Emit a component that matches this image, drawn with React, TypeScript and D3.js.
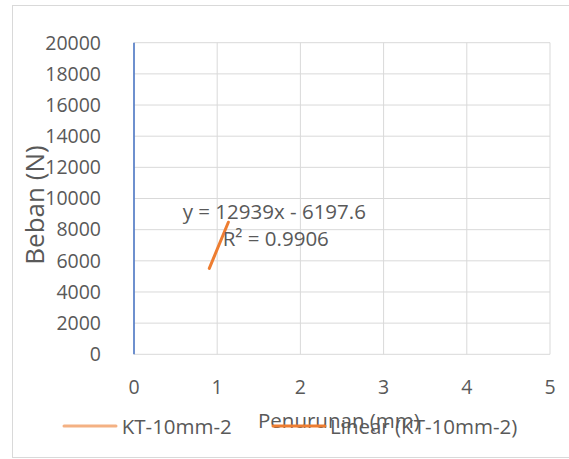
import React from "react";
import * as d3 from "d3";

const xTicks = [0, 1, 2, 3, 4, 5];
const yTicks = [0, 2000, 4000, 6000, 8000, 10000, 12000, 14000, 16000, 18000, 20000];
const seriesName = "KT-10mm-2";
const trendName = "Linear (KT-10mm-2)";
const trendSlope = 12939;
const trendIntercept = -6197.6;
const trendR2 = 0.9906;
const trendXRange = [0.905, 1.134];

const W = 569;
const H = 459;
const FONT = "'Open Sans', 'Noto Sans', sans-serif";
const TXT = "#595959";

export default function App() {
  const x = d3.scaleLinear().domain([0, 5]).range([134, 550]);
  const y = d3.scaleLinear().domain([0, 20000]).range([354.3, 42.7]);
  const trendPts: [number, number][] = trendXRange.map((v) => [v, trendSlope * v + trendIntercept]);
  const line = d3
    .line<[number, number]>()
    .x((d) => x(d[0]))
    .y((d) => y(d[1]));
  return (
    <svg
      width={W}
      height={H}
      style={{ position: "absolute", left: 0, top: 0 }}
      fontFamily={FONT}
    >
      <rect x={0} y={0} width={W} height={H} fill="#fff" />
      <rect x={12.5} y={5.5} width={W} height={452} fill="#fff" stroke="#d9d9d9" strokeWidth={1} />
      {yTicks.map((t) => (
        <line key={"gy" + t} x1={x(0)} x2={x(5)} y1={y(t)} y2={y(t)} stroke="#d9d9d9" strokeWidth={1} />
      ))}
      {xTicks.map((t) => (
        <line key={"gx" + t} x1={x(t)} x2={x(t)} y1={y(0)} y2={y(20000)} stroke="#d9d9d9" strokeWidth={1} />
      ))}
      <line x1={x(0)} x2={x(0)} y1={y(0)} y2={y(20000)} stroke="#4472c4" strokeWidth={1.5} />
      {yTicks.map((t) => (
        <text key={"ty" + t} x={101} y={y(t)} dy="0.35em" textAnchor="end" fontSize={19.5} fill={TXT}>
          {t}
        </text>
      ))}
      {xTicks.map((t) => (
        <text key={"tx" + t} x={x(t)} y={387} dy="0.35em" textAnchor="middle" fontSize={19.5} fill={TXT}>
          {t}
        </text>
      ))}
      <text
        transform={`translate(35,205) rotate(-90)`}
        textAnchor="middle"
        dy="0.35em"
        fontSize={26}
        fill={TXT}
      >
        Beban (N)
      </text>
      <text x={258} y={421} dy="0.35em" fontSize={20.5} fill={TXT}>
        Penurunan (mm)
      </text>
      <path d={line(trendPts) || ""} fill="none" stroke="#ed7d31" strokeWidth={3} strokeLinecap="round" />
      <text x={182.7} y={211.7} dy="0.35em" fontSize={20.5} fill={TXT}>
        {`y = ${trendSlope}x - ${Math.abs(trendIntercept)}`}
      </text>
      <text x={222.7} y={239.3} dy="0.35em" fontSize={20.5} fill={TXT}>
        {`R² = ${trendR2}`}
      </text>
      <line x1={64} x2={116} y1={426} y2={426} stroke="#f4b183" strokeWidth={3} strokeLinecap="round" />
      <text x={121.7} y={427} dy="0.35em" fontSize={20.5} fill={TXT}>
        {seriesName}
      </text>
      <line x1={273} x2={325} y1={426} y2={426} stroke="#ed7d31" strokeWidth={3} strokeLinecap="round" />
      <text x={330} y={427} dy="0.35em" fontSize={20.5} fill={TXT}>
        {trendName}
      </text>
    </svg>
  );
}
